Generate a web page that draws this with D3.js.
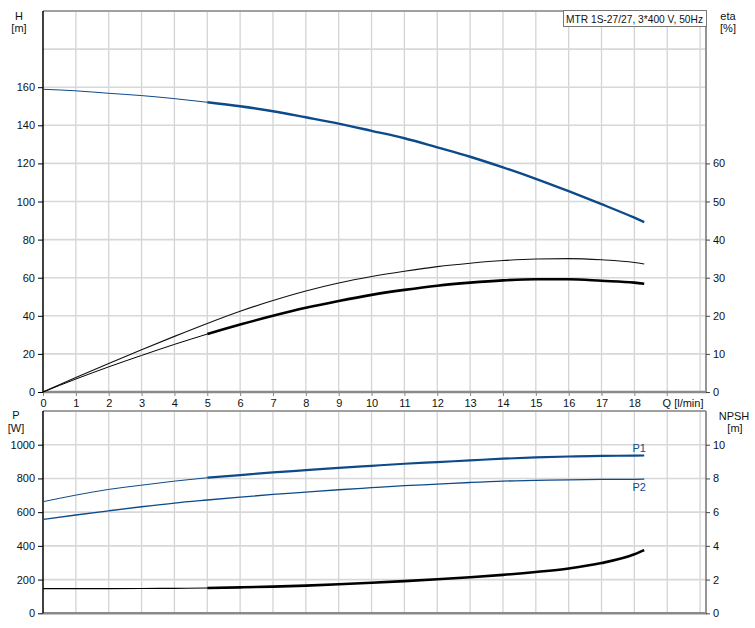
<!DOCTYPE html>
<html><head><meta charset="utf-8">
<script src="https://cdn.jsdelivr.net/npm/d3@7"></script>
<style>body{margin:0;background:#fff}svg{display:block;font-family:"Liberation Sans",Arial,sans-serif}</style>
</head><body>
<svg id="c" width="755" height="628"></svg>
<script>
// ---- data ----
const Q      = [0,1,2,3,4,5,6,7,8,9,10,11,12,13,14,15,16,17,18,18.3];
const H      = [158.9,158.1,156.8,155.6,154.0,152.1,150.0,147.4,144.2,140.9,137.1,133.2,128.4,123.5,117.9,111.9,105.4,98.6,91.5,89.2];
const etaTot = [0,3.8,7.5,11.1,14.6,18.0,21.2,24.0,26.5,28.6,30.3,31.7,32.9,33.8,34.5,34.9,35.0,34.7,34.0,33.6];
const etaPump= [0,3.4,6.6,9.6,12.5,15.2,17.7,20.0,22.1,23.9,25.5,26.8,27.9,28.7,29.3,29.6,29.6,29.2,28.7,28.4];
const P1     = [662,701,735,760,784,804,820,836,849,863,875,887,897,907,917,925,930,934,935,936];
const P2     = [557,583,608,632,654,672,689,705,719,733,745,757,766,776,784,788,792,794,795,796];
const NPSH   = [1.46,1.46,1.46,1.47,1.48,1.50,1.54,1.58,1.64,1.72,1.81,1.91,2.02,2.14,2.28,2.45,2.66,2.98,3.50,3.75];
const qTicks = [0,1,2,3,4,5,6,7,8,9,10,11,12,13,14,15,16,17,18];
const hTicks = [0,20,40,60,80,100,120,140,160];
const etaTicks = [0,10,20,30,40,50,60];
const pTicks = [0,200,400,600,800,1000];
const nTicks = [0,2,4,6,8,10];
const title = "MTR 1S-27/27, 3*400 V, 50Hz";
const thickFrom = 5;

const svg = d3.select("#c");
const L = 43, R = 706;
const x = d3.scaleLinear().domain([0, 20.18]).range([L, R]);
const yH = d3.scaleLinear().domain([0, 200]).range([392, 11]);
const yE = d3.scaleLinear().domain([0, 100]).range([392, 11]);
const yP = d3.scaleLinear().domain([0, 1200]).range([613.3, 411]);
const yN = d3.scaleLinear().domain([0, 12]).range([613.3, 411]);

const blue = "#0d4a8a";
const gridV = d3.range(1, 21);

function panel(yS, hGrid, top, bot) {
  const g = svg.append("g");
  g.selectAll(".gv").data(gridV).join("line")
    .attr("x1", d => x(d)).attr("x2", d => x(d))
    .attr("y1", top).attr("y2", bot)
    .attr("stroke", "#d2d4d6").attr("stroke-width", 1.3);
  g.selectAll(".gh").data(hGrid).join("line")
    .attr("x1", L).attr("x2", R)
    .attr("y1", d => yS(d)).attr("y2", d => yS(d))
    .attr("stroke", "#d8d8d8").attr("stroke-width", 1.6);
  g.append("line").attr("x1", L).attr("x2", R).attr("y1", top).attr("y2", top).attr("stroke", "#a0a0a0").attr("stroke-width", 2);
  g.append("line").attr("x1", L).attr("x2", R + 1).attr("y1", bot).attr("y2", bot).attr("stroke", "#8a8a8a").attr("stroke-width", 2.5);
  g.append("line").attr("x1", R).attr("x2", R).attr("y1", top).attr("y2", bot).attr("stroke", "#8a8a8a").attr("stroke-width", 1.8);
  return g;
}

panel(yH, d3.range(20, 200, 20), 11, 392);
panel(yP, d3.range(200, 1200, 200), 411, 613.3);

function styleAxis(g, color) {
  g.selectAll("text").attr("font-size", 11).attr("fill", "#111").attr("font-family", "Liberation Sans, Arial, sans-serif");
  g.selectAll("line").attr("stroke", color);
}
const fmt = d3.format("d");
const axL1 = svg.append("g").attr("transform", `translate(${L},0)`)
  .call(d3.axisLeft(yH).tickValues(hTicks).tickFormat(fmt).tickSize(5).tickPadding(3));
axL1.select(".domain").attr("d", `M0,11V392`).attr("stroke", "#000").attr("stroke-width", 1.5);
styleAxis(axL1, "#000");

const axR1 = svg.append("g").attr("transform", `translate(${R},0)`)
  .call(d3.axisRight(yE).tickValues(etaTicks).tickFormat(fmt).tickSize(4).tickPadding(3));
axR1.select(".domain").remove();
styleAxis(axR1, "#444");

const axB1 = svg.append("g").attr("transform", `translate(0,392)`)
  .call(d3.axisBottom(x).tickValues(qTicks).tickFormat(fmt).tickSize(4).tickPadding(3));
axB1.select(".domain").remove();
styleAxis(axB1, "#888");
svg.append("text").attr("x", 683).attr("y", 407).attr("text-anchor", "middle")
  .attr("font-size", 11).attr("fill", "#111").text("Q [l/min]");
svg.append("line").attr("x1", x(19)).attr("x2", x(19)).attr("y1", 392).attr("y2", 396).attr("stroke", "#888");

const axL2 = svg.append("g").attr("transform", `translate(${L},0)`)
  .call(d3.axisLeft(yP).tickValues(pTicks).tickFormat(fmt).tickSize(5).tickPadding(3));
axL2.select(".domain").attr("d", `M0,411V613.3`).attr("stroke", "#000").attr("stroke-width", 1.5);
styleAxis(axL2, "#000");

const axR2 = svg.append("g").attr("transform", `translate(${R},0)`)
  .call(d3.axisRight(yN).tickValues(nTicks).tickFormat(fmt).tickSize(4).tickPadding(3));
axR2.select(".domain").remove();
styleAxis(axR2, "#444");

function lbl(t, xx, yy, anchor) {
  svg.append("text").attr("x", xx).attr("y", yy).attr("text-anchor", anchor || "middle")
    .attr("font-size", 11).attr("fill", "#111").text(t);
}
lbl("H", 19, 20); lbl("[m]", 19, 32);
lbl("eta", 728, 20); lbl("[%]", 728, 32);
lbl("P", 16, 419); lbl("[W]", 16, 432);
lbl("NPSH", 734, 420); lbl("[m]", 735, 432);

svg.append("rect").attr("x", 563.5).attr("y", 10.5).attr("width", 143).attr("height", 16)
  .attr("fill", "#fff").attr("stroke", "#777").attr("stroke-width", 1);
svg.append("text").attr("x", 566).attr("y", 22.5).attr("font-size", 11).attr("fill", "#111")
  .attr("textLength", 137).attr("lengthAdjust", "spacingAndGlyphs").text(title);

function curve(vals, yS, color, thin, thick, split) {
  const pts = Q.map((q, i) => [q, vals[i]]);
  const line = d3.line().x(d => x(d[0])).y(d => yS(d[1])).curve(d3.curveMonotoneX);
  if (split) {
    svg.append("path").attr("d", line(pts.filter(d => d[0] <= thickFrom)))
      .attr("fill", "none").attr("stroke", color).attr("stroke-width", thin);
    svg.append("path").attr("d", line(pts.filter(d => d[0] >= thickFrom)))
      .attr("fill", "none").attr("stroke", color).attr("stroke-width", thick);
  } else {
    svg.append("path").attr("d", line(pts))
      .attr("fill", "none").attr("stroke", color).attr("stroke-width", thin);
  }
}
curve(H, yH, blue, 1, 2.4, true);
curve(etaTot, yE, "#111", 1.1, 1.1, false);
curve(etaPump, yE, "#000", 1, 2.6, true);
curve(P1, yP, blue, 1, 2.2, true);
curve(P2, yP, blue, 1.3, 1.3, false);
curve(NPSH, yN, "#000", 1.2, 2.6, true);

svg.append("text").attr("x", x(18.3) - 5).attr("y", yP(P1[P1.length - 1]) - 4).attr("text-anchor", "middle")
  .attr("font-size", 11).attr("fill", blue).text("P1");
svg.append("text").attr("x", x(18.3) - 5).attr("y", yP(P2[P2.length - 1]) + 12).attr("text-anchor", "middle")
  .attr("font-size", 11).attr("fill", blue).text("P2");
</script>
</body></html>
